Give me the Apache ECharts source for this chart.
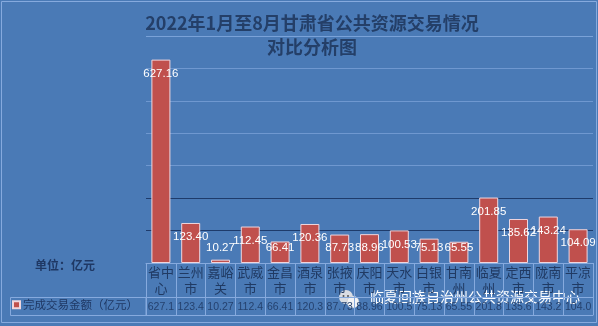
<!DOCTYPE html>
<html><head><meta charset="utf-8">
<script src="https://cdn.jsdelivr.net/npm/echarts@6/dist/echarts.min.js"></script>
<style>html,body{margin:0;padding:0;background:#4a7ab6}#c{width:598px;height:326px}</style>
</head><body><div id="c"></div>
<script>
const categories = ['省中心','兰州市','嘉峪关','武威市','金昌市','酒泉市','张掖市','庆阳市','天水市','白银市','甘南州','临夏州','定西市','陇南市','平凉市'];
const values = [627.16,123.40,10.27,112.45,66.41,120.36,87.73,88.96,100.53,75.13,65.55,201.85,135.62,143.24,104.09];
const seriesName = '完成交易金额（亿元）';
const titleText = '2022年1月至8月甘肃省公共资源交易情况\n对比分析图';
const unitText = '单位：亿元';
const watermark = '临夏回族自治州公共资源交易中心';

const FONT = '"Noto Sans CJK SC", "Noto Sans", sans-serif';
const light = '#86aade';
const dark = '#1e3b6b';
const navy = '#1f3864';

const barData = values.map(v => ({
  value: v,
  label: v >= 89 ? {position: 'insideTop', distance: 8} : {position: 'insideBottom', distance: 9}
}));

const chart = echarts.init(document.getElementById('c'));
chart.setOption({
  backgroundColor: '#4a7ab6',
  animation: false,
  legend: {
    data: [seriesName], left: 12, top: 299, itemWidth: 7, itemHeight: 7, itemGap: 2,
    icon: 'rect', padding: 0,
    textStyle: {fontFamily: FONT, fontSize: 11.5, color: navy, padding: [0, 0, 0, -2]}
  },
  grid: {left: 146, right: 5, top: 36, bottom: 63},
  xAxis: [
    {type: 'category', data: categories, position: 'bottom',
     axisLine: {show: true, lineStyle: {color: light, width: 1}},
     axisTick: {show: true, length: 52, interval: 0, lineStyle: {color: light}},
     axisLabel: {interval: 0, margin: 1, fontFamily: FONT, fontSize: 13, lineHeight: 16, color: '#203a63',
       formatter: s => s.slice(0, 2) + '\n' + s.slice(2)}},
    {type: 'category', data: categories, position: 'bottom', offset: 34,
     axisLine: {show: true, lineStyle: {color: light}}, axisTick: {show: false},
     axisLabel: {interval: 0, margin: 5, fontFamily: '"Liberation Sans", sans-serif', fontSize: 10.5, color: '#25426f',
       formatter: (s, i) => String(values[i].toFixed(2)).slice(0, 5)}},
    {type: 'category', data: categories, position: 'bottom', offset: 52,
     axisLine: {show: true, lineStyle: {color: light}}, axisTick: {show: false}, axisLabel: {show: false}}
  ],
  yAxis: {
    type: 'value', min: 0, max: 700, interval: 100,
    axisLabel: {show: false}, axisLine: {show: false}, axisTick: {show: false},
    splitLine: {show: true, lineStyle: {width: 1, color: ['rgba(0,0,0,0)', dark, dark, '#6f98d0', '#6f98d0', '#6f98d0', '#6f98d0', '#7aa2d8']}}
  },
  series: [{
    name: seriesName, type: 'bar', data: barData, barWidth: 19, xAxisIndex: 0,
    itemStyle: {color: '#c0504d', borderColor: '#efd6de', borderWidth: 1},
    label: {show: true, color: '#ffffff', fontSize: 11.5, fontFamily: '"Liberation Sans", sans-serif',
      formatter: p => values[p.dataIndex].toFixed(2)}
  }],
  graphic: [
    {type: 'rect', shape: {x: 1.5, y: 1.5, width: 595, height: 321}, style: {fill: 'none', stroke: light, lineWidth: 1}, silent: true},
    {type: 'rect', shape: {x: 10.5, y: 297.5, width: 135.5, height: 18}, style: {fill: 'none', stroke: light, lineWidth: 1}, silent: true},
    {type: 'text', x: 312, y: 11, style: {text: titleText, textAlign: 'center', font: 'bold 18px ' + FONT, fill: '#243f68', lineHeight: 24}},
    {type: 'text', left: 35, top: 259, style: {text: unitText, font: 'bold 12px ' + FONT, fill: navy}},
    {type: 'group', left: 339, top: 290, children: [
      {type: 'circle', shape: {cx: 7, cy: 6, r: 7}, style: {fill: '#d9dde3'}},
      {type: 'circle', shape: {cx: 14, cy: 11, r: 6}, style: {fill: '#f2f3f5', stroke: '#b8bec8', lineWidth: 0.5}},
      {type: 'circle', shape: {cx: 4.5, cy: 5, r: 1}, style: {fill: '#555'}},
      {type: 'circle', shape: {cx: 9, cy: 5, r: 1}, style: {fill: '#555'}}
    ]},
    {type: 'text', left: 370, top: 290, style: {text: watermark, font: '14px ' + FONT, fill: '#ffffff',
      shadowColor: 'rgba(0,0,0,0.6)', shadowBlur: 2, shadowOffsetX: 1, shadowOffsetY: 1}}
  ]
});
</script></body></html>
